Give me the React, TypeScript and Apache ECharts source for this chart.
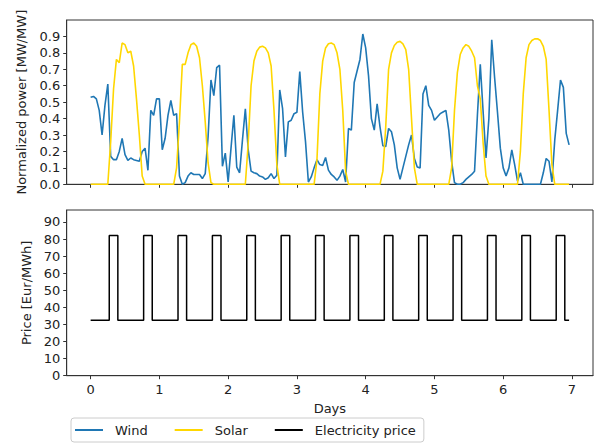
import React, { useEffect, useRef } from "react";
import * as echarts from "echarts";

// Tick labels
const dayTicks = [0, 1, 2, 3, 4, 5, 6, 7];
const powerTicks = [0, 0.1, 0.2, 0.3, 0.4, 0.5, 0.6, 0.7, 0.8, 0.9];
const priceTicks = [0, 10, 20, 30, 40, 50, 60, 70, 80, 90];

const seriesNames = ["Wind", "Solar", "Electricity price"];

// Hourly values (168 hours = 7 days)
const wind = [
  0.53, 0.535, 0.52, 0.45, 0.30, 0.48, 0.61, 0.17, 0.15, 0.15, 0.20, 0.28, 0.18, 0.145, 0.16, 0.15, 0.145, 0.14, 0.20, 0.22, 0.085, 0.45, 0.42, 0.52,
  0.52, 0.21, 0.28, 0.42, 0.51, 0.42, 0.43, 0.05, 0.0, 0.01, 0.05, 0.07, 0.06, 0.06, 0.06, 0.035, 0.065, 0.29, 0.635, 0.54, 0.71, 0.725, 0.11, 0.19,
  0.015, 0.22, 0.42, 0.105, 0.07, 0.27, 0.46, 0.21, 0.08, 0.07, 0.065, 0.05, 0.045, 0.03, 0.04, 0.065, 0.035, 0.055, 0.574, 0.46, 0.167, 0.38, 0.39, 0.43,
  0.438, 0.686, 0.44, 0.26, 0.014, 0.045, 0.10, 0.15, 0.12, 0.115, 0.163, 0.086, 0.06, 0.045, 0.024, 0.05, 0.09, 0.014, 0.34, 0.33, 0.62, 0.69, 0.76, 0.915,
  0.83, 0.66, 0.40, 0.33, 0.49, 0.35, 0.235, 0.23, 0.34, 0.32, 0.24, 0.10, 0.03, 0.10, 0.17, 0.24, 0.30, 0.157, 0.106, 0.10, 0.55, 0.60, 0.48, 0.45,
  0.39, 0.41, 0.43, 0.44, 0.45, 0.33, 0.14, 0.01, 0.0, 0.0, 0.01, 0.03, 0.045, 0.06, 0.08, 0.42, 0.73, 0.44, 0.16, 0.40, 0.88, 0.65, 0.44, 0.22,
  0.10, 0.05, 0.10, 0.21, 0.12, 0.02, 0.07, 0.0, 0.0, 0.0, 0.0, 0.0, 0.0, 0.0, 0.07, 0.157, 0.14, 0.014, 0.27, 0.45, 0.635, 0.59, 0.31, 0.24,
];

const solar = [
  0, 0, 0, 0, 0, 0, 0, 0.26, 0.58, 0.76, 0.74, 0.86, 0.85, 0.80, 0.81, 0.72, 0.52, 0.30, 0.05, 0, 0, 0, 0, 0,
  0, 0, 0, 0, 0, 0, 0.10, 0.38, 0.73, 0.73, 0.80, 0.85, 0.86, 0.84, 0.77, 0.60, 0.38, 0.13, 0.01, 0, 0, 0, 0, 0,
  0, 0, 0, 0, 0, 0, 0, 0.25, 0.60, 0.75, 0.81, 0.835, 0.84, 0.83, 0.80, 0.72, 0.45, 0.12, 0, 0, 0, 0, 0, 0,
  0, 0, 0, 0, 0, 0, 0, 0.15, 0.55, 0.75, 0.83, 0.855, 0.86, 0.85, 0.80, 0.70, 0.45, 0.08, 0, 0, 0, 0, 0, 0,
  0, 0, 0, 0, 0, 0, 0.08, 0.35, 0.70, 0.80, 0.845, 0.865, 0.87, 0.855, 0.82, 0.70, 0.40, 0.10, 0, 0, 0, 0, 0, 0,
  0, 0, 0, 0, 0, 0, 0.10, 0.45, 0.68, 0.79, 0.83, 0.85, 0.84, 0.81, 0.77, 0.60, 0.52, 0.25, 0.05, 0, 0, 0, 0, 0,
  0, 0, 0, 0, 0, 0, 0.20, 0.55, 0.77, 0.85, 0.875, 0.885, 0.886, 0.875, 0.84, 0.76, 0.45, 0.12, 0, 0, 0, 0, 0, 0,
];

const price = [
  32.5, 32.5, 32.5, 32.5, 32.5, 32.5, 32.5, 82, 82, 82, 32.5, 32.5, 32.5, 32.5, 32.5, 32.5, 32.5, 32.5, 32.5, 82, 82, 82, 32.5, 32.5,
  32.5, 32.5, 32.5, 32.5, 32.5, 32.5, 32.5, 82, 82, 82, 32.5, 32.5, 32.5, 32.5, 32.5, 32.5, 32.5, 32.5, 32.5, 82, 82, 82, 32.5, 32.5,
  32.5, 32.5, 32.5, 32.5, 32.5, 32.5, 32.5, 82, 82, 82, 32.5, 32.5, 32.5, 32.5, 32.5, 32.5, 32.5, 32.5, 32.5, 82, 82, 82, 32.5, 32.5,
  32.5, 32.5, 32.5, 32.5, 32.5, 32.5, 32.5, 82, 82, 82, 32.5, 32.5, 32.5, 32.5, 32.5, 32.5, 32.5, 32.5, 32.5, 82, 82, 82, 32.5, 32.5,
  32.5, 32.5, 32.5, 32.5, 32.5, 32.5, 32.5, 82, 82, 82, 32.5, 32.5, 32.5, 32.5, 32.5, 32.5, 32.5, 32.5, 32.5, 82, 82, 82, 32.5, 32.5,
  32.5, 32.5, 32.5, 32.5, 32.5, 32.5, 32.5, 82, 82, 82, 32.5, 32.5, 32.5, 32.5, 32.5, 32.5, 32.5, 32.5, 32.5, 82, 82, 82, 32.5, 32.5,
  32.5, 32.5, 32.5, 32.5, 32.5, 32.5, 32.5, 82, 82, 82, 32.5, 32.5, 32.5, 32.5, 32.5, 32.5, 32.5, 32.5, 32.5, 82, 82, 82, 32.5, 32.5,
];

const HOURS_PER_DAY = 24;

export default function App() {
  const ref = useRef<HTMLDivElement>(null);

  useEffect(() => {
    if (!ref.current) return;
    const chart = echarts.init(ref.current, null, { renderer: "svg" });
    const days = wind.map((_, i) => i / HOURS_PER_DAY);
    const pairs = (arr: number[]) => arr.map((v, i) => [days[i], v]);
    const font = "DejaVu Sans";
    const textColor = "#222";
    const axisColor = "#333";
    const fs = 13;

    const xAxisFor = (gridIndex: number, showLabels: boolean) => ({
      type: "value",
      gridIndex,
      min: -0.348,
      max: 7.306,
      axisLine: { show: true, onZero: false, lineStyle: { color: axisColor, width: 1 } },
      axisTick: { show: true, customValues: dayTicks, length: 3.5, lineStyle: { color: axisColor } },
      axisLabel: {
        show: showLabels,
        customValues: dayTicks,
        margin: 7.5,
        fontSize: fs,
        color: textColor,
        fontFamily: font,
        formatter: (v: number) => String(Math.round(v)),
      },
      splitLine: { show: false },
      ...(showLabels
        ? {
            name: "Days",
            nameLocation: "middle",
            nameGap: 26.5,
            nameTextStyle: { fontSize: fs, color: textColor, fontFamily: font },
          }
        : {}),
    });

    const yAxisFor = (
      gridIndex: number,
      max: number,
      ticks: number[],
      name: string,
      nameGap: number,
      digits: number
    ) => ({
      type: "value",
      gridIndex,
      min: 0,
      max,
      name,
      nameLocation: "middle",
      nameGap,
      nameTextStyle: { fontSize: fs, color: textColor, fontFamily: font },
      axisLine: { show: true, onZero: false, lineStyle: { color: axisColor, width: 1 } },
      axisTick: { show: true, customValues: ticks, length: 3.5, lineStyle: { color: axisColor } },
      axisLabel: {
        customValues: ticks,
        margin: 6.5,
        fontSize: fs,
        color: textColor,
        fontFamily: font,
        formatter: (v: number) => v.toFixed(digits),
      },
      splitLine: { show: false },
    });

    chart.setOption({
      animation: false,
      backgroundColor: "#fff",
      textStyle: { fontFamily: font },
      grid: [
        { left: 66.7, top: 20, width: 526.3, height: 164.3, show: true, borderColor: axisColor, borderWidth: 1, containLabel: false },
        { left: 66.7, top: 210, width: 526.3, height: 165.7, show: true, borderColor: axisColor, borderWidth: 1, containLabel: false },
      ],
      xAxis: [xAxisFor(0, false), xAxisFor(1, true)],
      yAxis: [
        yAxisFor(0, 1.0, powerTicks, "Normalized power [MW/MW]", 38.5, 1),
        yAxisFor(1, 97, priceTicks, "Price [Eur/MWh]", 32.5, 0),
      ],
      legend: {
        data: seriesNames,
        left: 71,
        top: 418,
        orient: "horizontal",
        icon: "rect",
        itemWidth: 28,
        itemHeight: 2,
        itemGap: 27,
        padding: [4, 8, 4, 4],
        borderColor: "#ccc",
        borderWidth: 1,
        borderRadius: 3,
        textStyle: { fontSize: fs, color: textColor, fontFamily: font, padding: [0, 0, 0, 7], lineHeight: 16 },
      },
      series: [
        {
          name: seriesNames[0],
          type: "line",
          xAxisIndex: 0,
          yAxisIndex: 0,
          data: pairs(wind),
          showSymbol: false,
          symbol: "none",
          lineStyle: { color: "#1f77b4", width: 1.6 },
          itemStyle: { color: "#1f77b4" },
        },
        {
          name: seriesNames[1],
          type: "line",
          xAxisIndex: 0,
          yAxisIndex: 0,
          data: pairs(solar),
          showSymbol: false,
          symbol: "none",
          lineStyle: { color: "#FFD700", width: 1.6 },
          itemStyle: { color: "#FFD700" },
        },
        {
          name: seriesNames[2],
          type: "line",
          xAxisIndex: 1,
          yAxisIndex: 1,
          data: pairs(price),
          step: "middle",
          showSymbol: false,
          symbol: "none",
          lineStyle: { color: "#000", width: 1.5 },
          itemStyle: { color: "#000" },
        },
      ],
    });

    return () => chart.dispose();
  }, []);

  return (
    <div
      ref={ref}
      style={{ position: "absolute", left: 0, top: 0, width: 598, height: 443 }}
    />
  );
}
